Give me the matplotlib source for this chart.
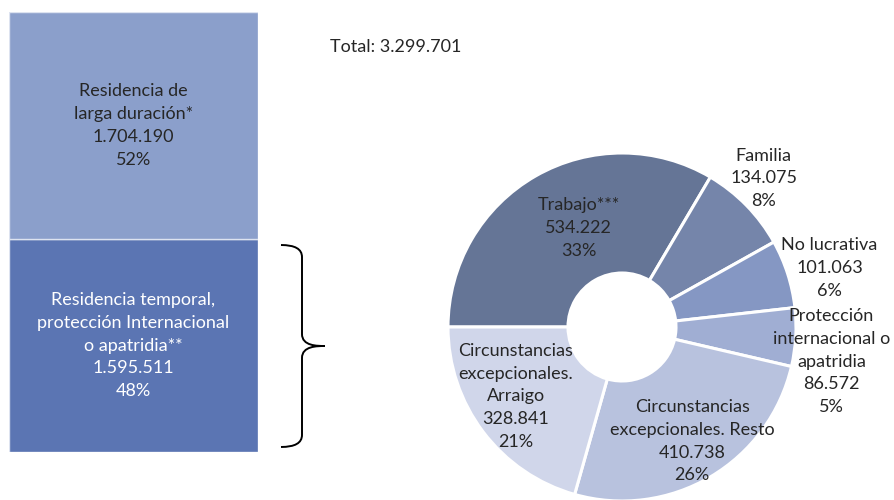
import numpy as np
import matplotlib
matplotlib.use("Agg")
import matplotlib.pyplot as plt
from matplotlib.path import Path
from matplotlib.patches import PathPatch

plt.rcParams['font.family'] = ['Lato', 'DejaVu Sans']

# stacked bar: total of residence permits
bar_labels = ['Residencia temporal,\nprotección Internacional\no apatridia**',
              'Residencia de\nlarga duración*']
bar_values = [1595511, 1704190]
bar_pcts = ['48%', '52%']
bar_colors = ['#5B75B3', '#8B9FCB']
bar_text_colors = ['white', '#262626']

# donut: breakdown of temporary residence
pie_labels = ['Trabajo***', 'Familia', 'No lucrativa',
              'Protección\ninternacional o\napatridia',
              'Circunstancias\nexcepcionales. Resto',
              'Circunstancias\nexcepcionales.\nArraigo']
pie_values = [534222, 134075, 101063, 86572, 410738, 328841]
pie_pcts = ['33%', '8%', '6%', '5%', '26%', '21%']
pie_colors = ['#657596', '#7585AA', '#8597C3', '#A0AED3', '#B8C2DE', '#D0D6EA']
# label radius and angle nudge (deg) for each wedge
lab_r = [0.62, 1.18, 1.24, 1.22, 0.77, 0.73]
lab_da = [-6, 2, -2, -6, 1, -4]

total_text = 'Total: 3.299.701'

FS = 13.0
LS = 1.52


def fmt(v):
    return f'{v:,}'.replace(',', '.')


fig = plt.figure(figsize=(8.95, 5.0), dpi=100)
W, H = 895, 500

# ---- left stacked bar
axb = fig.add_axes([9 / W, (H - 452) / H, 249 / W, 440 / H])
bottom = 0
for v, lab, pc, c, tc in zip(bar_values, bar_labels, bar_pcts, bar_colors, bar_text_colors):
    axb.bar(0, v, width=1, bottom=bottom, color=c, edgecolor='#DDE3F0', linewidth=1)
    axb.text(0, bottom + v / 2, f'{lab}\n{fmt(v)}\n{pc}', ha='center', va='center',
             fontsize=FS, color=tc, linespacing=LS)
    bottom += v
axb.set_xlim(-0.5, 0.5)
axb.set_ylim(0, sum(bar_values))
axb.axis('off')

# ---- curly brace next to the lower segment
axo = fig.add_axes([0, 0, 1, 1])
axo.set_xlim(0, W)
axo.set_ylim(H, 0)
axo.axis('off')
xl, xm, xr = 281, 302, 325
yt, ymid, yb = 245, 346, 447
verts = [(xl, yt), (xm, yt), (xm, yt + 12),
         (xm, ymid - 12),
         (xm, ymid), (xr - 8, ymid), (xr, ymid),
         (xr - 8, ymid), (xm, ymid), (xm, ymid + 12),
         (xm, yb - 12),
         (xm, yb), (xl, yb)]
codes = [Path.MOVETO, Path.CURVE3, Path.CURVE3,
         Path.LINETO,
         Path.CURVE4, Path.CURVE4, Path.CURVE4,
         Path.CURVE4, Path.CURVE4, Path.CURVE4,
         Path.LINETO,
         Path.CURVE3, Path.CURVE3]
axo.add_patch(PathPatch(Path(verts, codes), fill=False, lw=1.4, color='black'))
axo.text(330, 47, total_text, fontsize=FS, color='#262626', va='center', ha='left')

# ---- donut
cx, cy, R = 622, 327, 174
axp = fig.add_axes([(cx - R) / W, (H - cy - R) / H, 2 * R / W, 2 * R / H])
wedges, _ = axp.pie(pie_values, colors=pie_colors, startangle=180, counterclock=False,
                    radius=1, wedgeprops=dict(width=120 / 174, edgecolor='white', linewidth=2.2))
axp.set_xlim(-1, 1)
axp.set_ylim(-1, 1)
for w, lab, v, pc, r, da in zip(wedges, pie_labels, pie_values, pie_pcts, lab_r, lab_da):
    ang = np.deg2rad((w.theta1 + w.theta2) / 2 + da)
    axp.text(r * np.cos(ang), r * np.sin(ang), f'{lab}\n{fmt(v)}\n{pc}',
             ha='center', va='center', fontsize=FS, color='#262626',
             linespacing=LS, clip_on=False)

fig.savefig('out.png', dpi=100)
